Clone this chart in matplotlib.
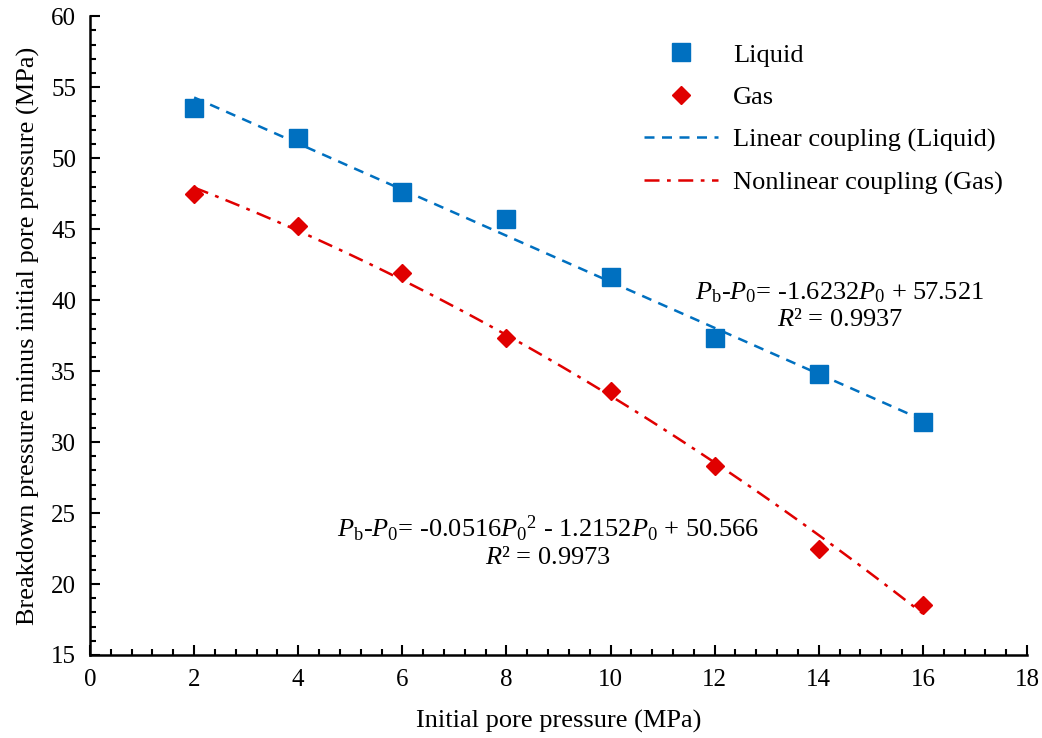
import numpy as np
import matplotlib.pyplot as plt
from matplotlib.ticker import MultipleLocator

plt.rcParams['font.family'] = 'Liberation Serif'
plt.rcParams['font.size'] = 18
plt.rcParams['mathtext.fontset'] = 'custom'
plt.rcParams['mathtext.rm'] = 'Liberation Serif'
plt.rcParams['mathtext.it'] = 'Liberation Serif:italic'

# data
p0 = [2, 4, 6, 8, 10, 12, 14, 16]
liquid = [53.5, 51.4, 47.6, 45.7, 41.6, 37.3, 34.8, 31.4]
gas = [47.5, 45.2, 41.9, 37.3, 33.6, 28.3, 22.5, 18.5]

# fitted coefficients (as printed on chart)
lin_coef = [-1.6232, 57.521]
quad_coef = [-0.0516, -1.2152, 50.566]

blue = '#0070C0'
red = '#E00000'

fig = plt.figure(figsize=(10.42, 7.38), dpi=100)
ax = fig.add_axes([0.0864, 0.1125, 0.8992, 0.8655])

xf = np.linspace(min(p0), max(p0), 100)
ax.plot(p0, liquid, 's', color=blue, markersize=12.5, label='Liquid', zorder=3)
ax.plot(p0, gas, 'D', color=red, markersize=9, label='Gas', zorder=3)
ax.plot(xf, np.polyval(lin_coef, xf), '--', color=blue, lw=1.8,
        dashes=(4, 3), label='Linear coupling (Liquid)')
ax.plot(xf, np.polyval(quad_coef, xf), '-.', color=red, lw=1.8,
        dashes=(6, 3, 1.5, 3), label='Nonlinear coupling (Gas)')

ax.text(14.4, 39.6, r'$P_\mathrm{b}$-$P_0$= -1.6232$P_0$ + 57.521' + '\n$R$² = 0.9937',
        ha='center', va='center', fontsize=19, linespacing=1.2)
ax.text(8.8, 23.0, r'$P_\mathrm{b}$-$P_0$= -0.0516$P_0$$^2$ - 1.2152$P_0$ + 50.566' + '\n$R$² = 0.9973',
        ha='center', va='center', fontsize=19, linespacing=1.15)

ax.set_xlim(0, 18)
ax.set_ylim(15, 60)
ax.xaxis.set_major_locator(MultipleLocator(2))
ax.xaxis.set_minor_locator(MultipleLocator(0.4))
ax.yaxis.set_major_locator(MultipleLocator(5))
ax.yaxis.set_minor_locator(MultipleLocator(1))
ax.tick_params(which='both', direction='in', width=1.5)
ax.tick_params(which='major', length=7, labelsize=18, pad=10)
ax.tick_params(which='minor', length=4)
for s in ['top', 'right']:
    ax.spines[s].set_visible(False)
for s in ['left', 'bottom']:
    ax.spines[s].set_linewidth(1.8)

ax.set_xlabel('Initial pore pressure (MPa)', fontsize=19, labelpad=14)
ax.set_ylabel('Breakdown pressure minus initial pore pressure (MPa)', fontsize=19, labelpad=8)

ax.legend(loc='upper right', frameon=False, fontsize=19, handlelength=2.8,
          handletextpad=0.6, labelspacing=0.72, bbox_to_anchor=(1.0, 0.995))

fig.savefig('out.png', dpi=100)
